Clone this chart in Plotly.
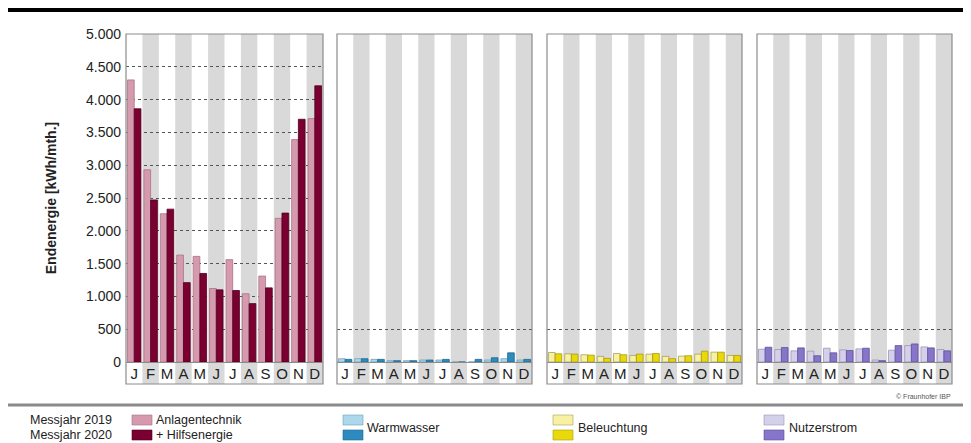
import plotly.graph_objects as go

months = ["J", "F", "M", "A", "M", "J", "J", "A", "S", "O", "N", "D"]

# Endenergie [kWh/mth.] je Monat, Messjahr 2019 / 2020
anlagen_2019 = [4300, 2930, 2260, 1630, 1610, 1120, 1560, 1040, 1310, 2190, 3390, 3710]
anlagen_2020 = [3860, 2470, 2330, 1210, 1350, 1100, 1090, 890, 1130, 2270, 3700, 4210]
warmwasser_2019 = [50, 50, 40, 20, 20, 30, 30, 0, 0, 30, 50, 30]
warmwasser_2020 = [40, 50, 40, 20, 20, 30, 40, 0, 40, 65, 140, 40]
beleuchtung_2019 = [145, 125, 110, 85, 130, 100, 120, 85, 90, 120, 150, 100]
beleuchtung_2020 = [125, 120, 105, 55, 110, 120, 130, 50, 95, 165, 150, 100]
nutzer_2019 = [195, 190, 170, 165, 210, 185, 200, 30, 180, 250, 230, 190]
nutzer_2020 = [225, 220, 215, 95, 140, 175, 210, 20, 250, 275, 215, 170]

panels = [
    ("Anlagentechnik", anlagen_2019, anlagen_2020, "#d59aae", "#7b0031", "#a87384", "#4d001e"),
    ("Warmwasser", warmwasser_2019, warmwasser_2020, "#acd8ec", "#2d8bbf", "#6e9fb5", "#1f6690"),
    ("Beleuchtung", beleuchtung_2019, beleuchtung_2020, "#f8f1a2", "#e9d90a", "#a8a060", "#a89a10"),
    ("Nutzerstrom", nutzer_2019, nutzer_2020, "#d4d0ea", "#8775c9", "#9a95b5", "#5e4f9c"),
]

# the page puts the figure 8 px from the top-left corner, so the figure is
# 8 px smaller and all pixel positions below are page positions
OFF = 8
W, H = 971 - OFF, 443 - OFF
px_x = [(126, 323), (337, 532), (547, 742), (757, 952)]
y_top, y_base, y_lab = 34, 362, 384


def fx(p):
    return (p - OFF) / W


def fy(p):
    return 1 - (p - OFF) / H


fig = go.Figure()
shapes = []
annotations = []
idx = list(range(12))

for i, (name, v19, v20, c19, c20, l19, l20) in enumerate(panels):
    ax = "" if i == 0 else str(i + 1)
    fig.add_trace(go.Bar(x=idx, y=v19, name=name + " 2019", marker_color=c19,
                         marker_line=dict(color=l19, width=0.8),
                         xaxis="x" + ax, yaxis="y" + ax, showlegend=False))
    fig.add_trace(go.Bar(x=idx, y=v20, name=name + " 2020", marker_color=c20,
                         marker_line=dict(color=l20, width=0.8),
                         xaxis="x" + ax, yaxis="y" + ax, showlegend=False))
    x0, x1 = px_x[i]
    fig.layout["xaxis" + ax] = dict(
        domain=[fx(x0), fx(x1)], range=[-0.5, 11.5], anchor="y" + ax,
        tickvals=idx, ticktext=months, ticks="", showgrid=False, automargin=False,
        showline=True, linecolor="#8c8c8c", linewidth=1, ticklabelstandoff=-2,
        tickfont=dict(size=15, color="#222"), zeroline=False,
    )
    yopts = dict(domain=[fy(y_base), fy(y_top)], range=[0, 5000], anchor="x" + ax,
                 showgrid=True, gridcolor="#555", griddash="dot", gridwidth=1,
                 zeroline=False, showline=False, ticks="", automargin=False)
    if i == 0:
        yopts.update(dtick=500, tickformat=",d", tickfont=dict(size=14, color="#222"),
                     ticklabelstandoff=4,
                     title=dict(text="<b>Endenergie [kWh/mth.]</b>", font=dict(size=14, color="#222"),
                                standoff=26))
    else:
        yopts.update(tickvals=[500], showticklabels=False)
    fig.layout["yaxis" + ax] = yopts

    xr = "x" + ax
    for m in range(1, 12, 2):
        shapes.append(dict(type="rect", xref=xr, yref="paper", x0=m - 0.5, x1=m + 0.5,
                           y0=fy(y_lab), y1=fy(y_top), fillcolor="#d9d9d9",
                           line_width=0, layer="below"))
    shapes.append(dict(type="rect", xref="paper", yref="paper", x0=fx(x0), x1=fx(x1),
                       y0=fy(y_lab), y1=fy(y_top), line=dict(color="#8c8c8c", width=1.2),
                       fillcolor="rgba(0,0,0,0)", layer="above"))

# top rule and legend separator
shapes.append(dict(type="line", xref="paper", yref="paper", x0=0, x1=1, y0=fy(10), y1=fy(10),
                   line=dict(color="black", width=4)))
shapes.append(dict(type="line", xref="paper", yref="paper", x0=0, x1=1, y0=fy(405), y1=fy(405),
                   line=dict(color="#8a8a8a", width=3)))

# legend swatches
leg = [(132, panels[0]), (343, panels[1]), (553, panels[2]), (764, panels[3])]
for lx, (name, _, _, c19, c20, l19, l20) in leg:
    shapes.append(dict(type="rect", xref="paper", yref="paper", x0=fx(lx), x1=fx(lx + 20),
                       y0=fy(425), y1=fy(415), fillcolor=c19, line=dict(color=l19, width=0.6)))
    shapes.append(dict(type="rect", xref="paper", yref="paper", x0=fx(lx), x1=fx(lx + 20),
                       y0=fy(440), y1=fy(430), fillcolor=c20, line=dict(color=l20, width=0.6)))

lf = dict(size=12.5, color="#222")
annotations += [
    dict(text="Messjahr 2019", x=fx(28), y=fy(420), xanchor="left", yanchor="middle", font=lf),
    dict(text="Messjahr 2020", x=fx(28), y=fy(435), xanchor="left", yanchor="middle", font=lf),
    dict(text="Anlagentechnik", x=fx(154), y=fy(420), xanchor="left", yanchor="middle", font=lf),
    dict(text="+ Hilfsenergie", x=fx(154), y=fy(435), xanchor="left", yanchor="middle", font=lf),
    dict(text="Warmwasser", x=fx(365), y=fy(428), xanchor="left", yanchor="middle", font=lf),
    dict(text="Beleuchtung", x=fx(576), y=fy(428), xanchor="left", yanchor="middle", font=lf),
    dict(text="Nutzerstrom", x=fx(787), y=fy(428), xanchor="left", yanchor="middle", font=lf),
    dict(text="© Fraunhofer IBP", x=fx(953), y=fy(396), xanchor="right", yanchor="middle",
         font=dict(size=7, color="#555")),
]
for a in annotations:
    a.update(xref="paper", yref="paper", showarrow=False)

fig.update_layout(
    width=W, height=H, margin=dict(l=0, r=0, t=0, b=0),
    paper_bgcolor="white", plot_bgcolor="rgba(0,0,0,0)",
    font=dict(family="Liberation Sans, Arial, sans-serif"),
    separators=",.", barmode="group", bargap=0.18, bargroupgap=0,
    shapes=shapes, annotations=annotations, showlegend=False,
)

fig.write_html("out.html")
